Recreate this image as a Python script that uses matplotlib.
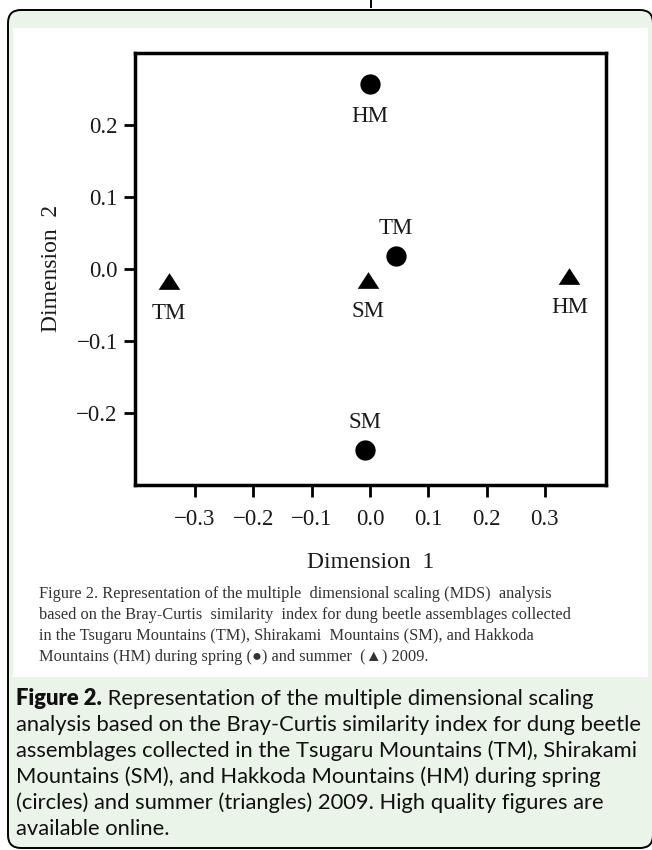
import matplotlib
matplotlib.use('Agg')
import matplotlib.pyplot as plt
from matplotlib.patches import FancyBboxPatch, Rectangle
from matplotlib.path import Path
from matplotlib.lines import Line2D

# ---------------- data ----------------
sites = ['TM', 'SM', 'HM']
spring_x = [0.045, -0.008, 0.000]
spring_y = [0.017, -0.252, 0.256]
summer_x = [-0.345, -0.004, 0.342]
summer_y = [-0.017, -0.015, -0.010]
spring_label_side = ['above', 'above', 'below']
summer_label_side = ['below', 'below', 'below']
x_ticks = [-0.3, -0.2, -0.1, 0.0, 0.1, 0.2, 0.3]
y_ticks = [-0.2, -0.1, 0.0, 0.1, 0.2]
x_label = 'Dimension  1'
y_label = 'Dimension  2'

inner_caption = [
    'Figure 2. Representation of the multiple  dimensional scaling (MDS)  analysis',
    'based on the Bray-Curtis  similarity  index for dung beetle assemblages collected',
    'in the Tsugaru Mountains (TM), Shirakami  Mountains (SM), and Hakkoda',
    'Mountains (HM) during spring (\u25CF) and summer  (\u25B2) 2009.',
]
caption_bold = 'Figure 2.'
caption_lines = [
    ' Representation of the multiple dimensional scaling',
    'analysis based on the Bray-Curtis similarity index for dung beetle',
    'assemblages collected in the Tsugaru Mountains (TM), Shirakami',
    'Mountains (SM), and Hakkoda Mountains (HM) during spring',
    '(circles) and summer (triangles) 2009. High quality figures are',
    'available online.',
]

# ---------------- figure ----------------
W, H = 652, 850
fig = plt.figure(figsize=(W / 100, H / 100), dpi=100)
fig.patch.set_facecolor('white')

bg = fig.add_axes([0, 0, 1, 1])
bg.set_xlim(0, W)
bg.set_ylim(H, 0)
bg.axis('off')

green = '#EBF4E9'
box = FancyBboxPatch((8, 10), 645, 838,
                     boxstyle='round,pad=0,rounding_size=13',
                     facecolor=green, edgecolor='black', linewidth=1.4)
bg.add_patch(box)
bg.add_patch(Rectangle((13, 28), 635, 649, facecolor='white', edgecolor='none'))
bg.add_line(Line2D([371, 371], [0, 7], color='black', lw=1.4))

serif = ['Liberation Serif', 'DejaVu Serif', 'DejaVu Sans']
chart_color = '#1a1a1a'

# ---------------- main axes ----------------
L, R, T, B = 135, 605.5, 52.5, 485
ax = fig.add_axes([L / W, 1 - B / H, (R - L) / W, (B - T) / H])
ax.set_xlim(-0.403, 0.404)
ax.set_ylim(-0.30, 0.30)
for s in ax.spines.values():
    s.set_linewidth(2.5)
    s.set_color('black')

ax.set_xticks(x_ticks)
ax.set_xticklabels([f'{v:.1f}'.replace('-', '\u2212') for v in x_ticks],
                   family=serif, fontsize=16.5, color=chart_color)
ax.set_yticks(y_ticks)
ax.set_yticklabels([f'{v:.1f}'.replace('-', '\u2212') for v in y_ticks],
                   family=serif, fontsize=16.5, color=chart_color)
ax.tick_params(axis='x', direction='out', length=8.6, width=2.0, pad=9)
ax.tick_params(axis='y', direction='out', length=8.0, width=2.0, pad=4.5)

tri = Path([(-1, -0.77), (1, -0.77), (0, 0.77), (-1, -0.77)],
           [Path.MOVETO, Path.LINETO, Path.LINETO, Path.CLOSEPOLY])

ax.plot(spring_x, spring_y, linestyle='none', marker='o', ms=14.6,
        mfc='black', mec='none')
ax.plot(summer_x, summer_y, linestyle='none', marker=tri, ms=15.6,
        mfc='black', mec='none')

def put_labels(xs, ys, sides):
    for name, x, y, side in zip(sites, xs, ys, sides):
        dy = -27.0 if side == 'below' else 16.2
        ax.annotate(name, (x, y), xytext=(0, dy), textcoords='offset points',
                    ha='center', va='baseline', family=serif, fontsize=16.5,
                    color=chart_color)

put_labels(spring_x, spring_y, spring_label_side)
put_labels(summer_x, summer_y, summer_label_side)

# axis labels
cx = (L + R) / 2
bg.text(cx, 568, x_label, ha='center', va='baseline', family=serif,
        fontsize=17, color=chart_color)
bg.text(57, (T + B) / 2, y_label, ha='center', va='baseline', rotation=90,
        rotation_mode='anchor', family=serif, fontsize=17, color=chart_color)

renderer = fig.canvas.get_renderer()

def fitted_size(sample, target_px, **kw):
    t = bg.text(0, 0, sample, fontsize=10, **kw)
    w = t.get_window_extent(renderer).width
    t.remove()
    return 10 * target_px / w

# inner (serif) caption
cap_size = fitted_size(inner_caption[1], 533, family=serif)
for i, line in enumerate(inner_caption):
    bg.text(39, 598 + 21 * i, line, ha='left', va='baseline', family=serif,
            fontsize=cap_size, color='#333333')

# green caption
sans = ['Lato', 'DejaVu Sans']
g_size = fitted_size(caption_lines[1], 628, family=sans)
tb = bg.text(16, 705, caption_bold, ha='left', va='baseline', family=sans,
             fontweight='heavy', fontsize=g_size, color='#111111')
wb = tb.get_window_extent(renderer).width
for i, line in enumerate(caption_lines):
    x0 = 16 + wb if i == 0 else 16
    bg.text(x0, 705 + 26 * i, line, ha='left', va='baseline', family=sans,
            fontsize=g_size, color='#111111')

fig.savefig('out.png', dpi=100, facecolor='white')
